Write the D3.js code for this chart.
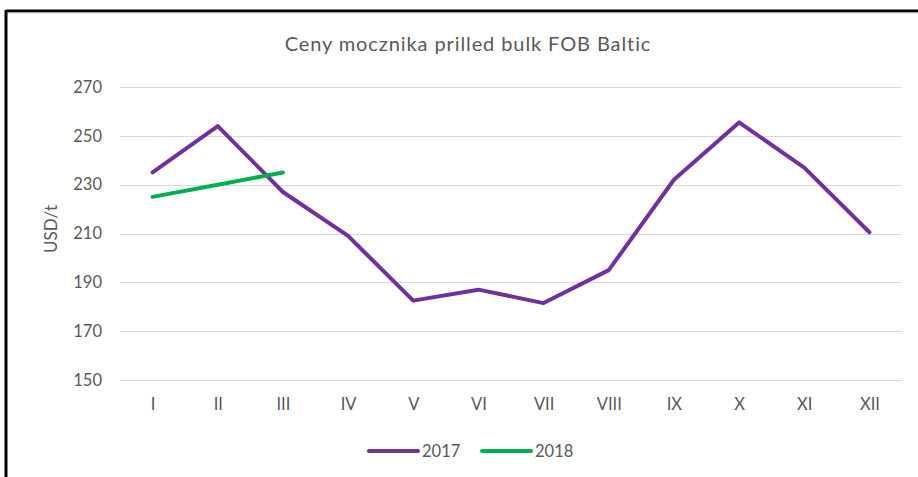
<!DOCTYPE html>
<html lang="pl">
<head>
<meta charset="UTF-8">
<title>Ceny mocznika prilled bulk FOB Baltic</title>
<script src="https://d3js.org/d3.v7.min.js"></script>
<style>
  body { margin: 0; background: #fff; }
  svg { display: block; font-family: "Lato", "Open Sans", sans-serif; }
</style>
</head>
<body>
<svg id="chart" width="918" height="477"></svg>
<script>
const months = ["I", "II", "III", "IV", "V", "VI", "VII", "VIII", "IX", "X", "XI", "XII"];
const values2017 = [235, 254, 227, 209, 182.5, 187, 181.5, 195, 232, 255.5, 237, 210.5];
const values2018 = [225, 230, 235];
const yTicks = [150, 170, 190, 210, 230, 250, 270];

const svg = d3.select("#chart");

// ramka
svg.append("line").attr("x1", 6).attr("x2", 918).attr("y1", 11).attr("y2", 11)
  .attr("stroke", "#000").attr("stroke-width", 3);
svg.append("line").attr("x1", 6).attr("x2", 918).attr("y1", 13).attr("y2", 13)
  .attr("stroke", "#ccc").attr("stroke-width", 1);
svg.append("line").attr("x1", 6).attr("x2", 6).attr("y1", 10).attr("y2", 477)
  .attr("stroke", "#000").attr("stroke-width", 3);

const x = d3.scalePoint().domain(months).range([120, 902]).padding(0.5);
const y = d3.scaleLinear().domain([150, 270]).range([380, 87]);

// siatka
svg.append("g")
  .selectAll("line")
  .data(yTicks)
  .join("line")
  .attr("x1", 120).attr("x2", 902)
  .attr("y1", d => Math.round(y(d)) + 0.5).attr("y2", d => Math.round(y(d)) + 0.5)
  .attr("stroke", "#d9d9d9").attr("stroke-width", 1);

const yAxis = svg.append("g")
  .attr("transform", "translate(102,0)")
  .call(d3.axisLeft(y).tickValues(yTicks).tickSize(0).tickPadding(0));
yAxis.select(".domain").remove();
yAxis.selectAll("text").attr("font-size", 16.5).attr("fill", "#595959")
  .attr("font-family", "Lato, sans-serif");

const xAxis = svg.append("g")
  .attr("transform", "translate(0,398)")
  .call(d3.axisBottom(x).tickSize(0).tickPadding(0));
xAxis.select(".domain").remove();
xAxis.selectAll("text").attr("font-size", 16.5).attr("fill", "#595959")
  .attr("dy", "0.71em").attr("font-family", "Lato, sans-serif");

svg.append("text")
  .attr("transform", "translate(57,229) rotate(-90)")
  .attr("text-anchor", "middle")
  .attr("font-size", 17).attr("fill", "#595959")
  .text("USD/t");

svg.append("text")
  .attr("x", 468).attr("y", 51)
  .attr("text-anchor", "middle")
  .attr("font-size", 20).attr("letter-spacing", 0.9).attr("fill", "#595959")
  .text("Ceny mocznika prilled bulk FOB Baltic");

const line = d3.line().x((d, i) => x(months[i])).y(d => y(d));

svg.append("path").datum(values2017)
  .attr("d", line).attr("fill", "none")
  .attr("stroke", "#7030a0").attr("stroke-width", 4)
  .attr("stroke-linejoin", "round").attr("stroke-linecap", "round");

svg.append("path").datum(values2018)
  .attr("d", line).attr("fill", "none")
  .attr("stroke", "#00b050").attr("stroke-width", 4)
  .attr("stroke-linejoin", "round").attr("stroke-linecap", "round");

// legenda
const legend = [
  { name: "2017", color: "#7030a0", x: 369 },
  { name: "2018", color: "#00b050", x: 482 }
];
const lg = svg.append("g").selectAll("g").data(legend).join("g")
  .attr("transform", d => `translate(${d.x},451)`);
lg.append("line").attr("x1", 0).attr("x2", 49)
  .attr("stroke", d => d.color).attr("stroke-width", 4).attr("stroke-linecap", "round");
lg.append("text").attr("x", 53).attr("dy", "0.35em")
  .attr("font-size", 16.5).attr("fill", "#595959")
  .text(d => d.name);
</script>
</body>
</html>
